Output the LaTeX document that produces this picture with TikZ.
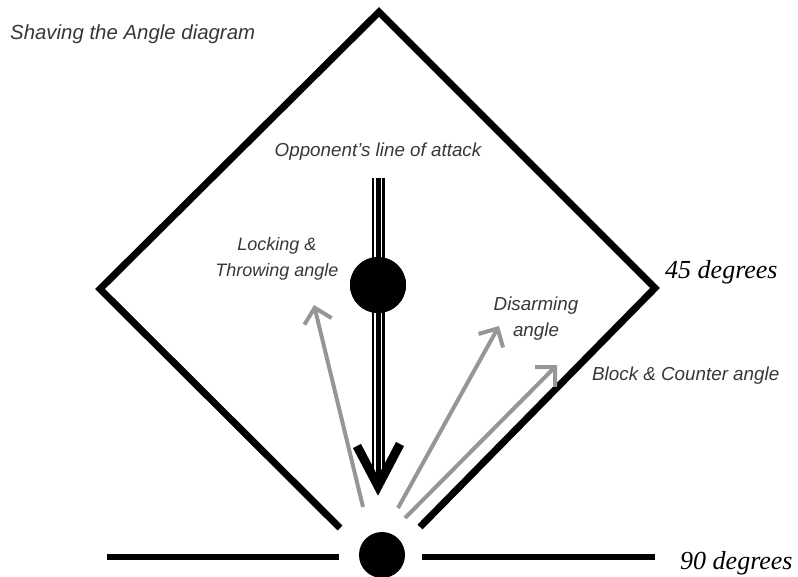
\documentclass[tikz,border=0pt]{standalone}
\usepackage{fontspec}
\setmainfont{Liberation Serif}
\setsansfont{Liberation Sans}
\usetikzlibrary{arrows.meta}

\definecolor{rayGray}{RGB}{150,150,150}
\definecolor{labelGray}{RGB}{55,55,55}

\tikzset{
  lbl/.style={text=labelGray, font=\sffamily\itshape\fontsize{18.8}{26}\selectfont, align=center, inner sep=0pt},
  deg/.style={font=\itshape\fontsize{26}{30}\selectfont, inner sep=0pt},
  ray/.style={rayGray, line width=4pt, -{Straight Barb[length=14pt, width=28pt, line width=4pt]}},
}

\begin{document}
\begin{tikzpicture}[x=1pt, y=-1pt]
    \useasboundingbox (0, 0) rectangle (798, 577);

    % the square
    \coordinate (e1) at (340, 528);
    \coordinate (e2) at (100, 289);
    \coordinate (e3) at (379, 12);
    \coordinate (e4) at (655, 288);
    \coordinate (e5) at (420, 527);

    % ground line
    \coordinate (h1) at (107, 557);
    \coordinate (h2) at (339, 557);
    \coordinate (h3) at (422, 557);
    \coordinate (h4) at (655, 557);

    % line of attack
    \coordinate (a1) at (378, 178);
    \coordinate (a2) at (378, 478);
    \coordinate (t1) at (357, 446);
    \coordinate (t2) at (378, 486);
    \coordinate (t3) at (400, 444);

    \node[circle, fill, inner sep=0pt, minimum size=56pt] (c1) at (378, 285) {};
    \node[circle, fill, inner sep=0pt, minimum size=46pt] (c2) at (382, 555) {};

    % ray ends
    \coordinate (r1) at (363, 507);
    \coordinate (s1) at (314, 305);
    \coordinate (r2) at (398, 508);
    \coordinate (s2) at (499, 326);
    \coordinate (r3) at (405, 518);
    \coordinate (s3) at (557, 365);

    \node[lbl, anchor=west, font=\sffamily\itshape\fontsize{20.4}{24}\selectfont] (title) at (10, 34) {Shaving the Angle diagram};
    \node[lbl] (opp) at (378, 152) {Opponent’s line of attack};
    \node[lbl, font=\sffamily\itshape\fontsize{18}{26}\selectfont] (lock) at (277, 259) {Locking \&\\Throwing angle};
    \node[lbl] (dis) at (536, 319) {Disarming\\angle};
    \node[lbl, anchor=west] (blk) at (592, 376) {Block \& Counter angle};
    \node[deg, anchor=west] (d45) at (665, 272) {45 degrees};
    \node[deg, anchor=west] (d90) at (680, 563) {90 degrees};

    \draw[line width=7pt, miter limit=10] (e1)
    -- (e2)
    -- (e3)
    -- (e4)
    -- (e5);

    \draw[line width=6pt] (h1) -- (h2);
    \draw[line width=6pt] (h3) -- (h4);

    \draw[line width=13pt] (a1) -- (a2);
    \draw[white, line width=8pt] (a1) -- (a2);
    \draw[line width=5pt] (a1) -- (a2);
    \draw[line width=9pt, miter limit=10] (t1) -- (t2) -- (t3);

    \draw[ray] (r1) -- (s1);
    \draw[ray] (r2) -- (s2);
    \draw[ray] (r3) -- (s3);

    \node[circle, fill, inner sep=0pt, minimum size=56pt] at (c1) {};

  \end{tikzpicture}
\end{document}
